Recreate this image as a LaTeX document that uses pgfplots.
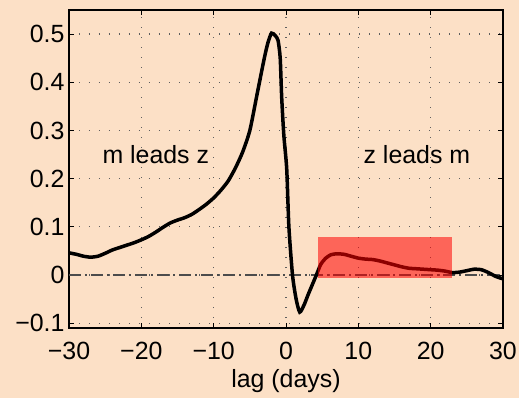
\documentclass[border=0pt]{standalone}
\usepackage{fontspec}
\setmainfont{Liberation Sans}
\usepackage{pgfplots}
\pgfplotsset{compat=1.18}
\usetikzlibrary{backgrounds,calc}
\definecolor{peach}{RGB}{252,224,198}
\definecolor{gridc}{RGB}{95,95,95}
\begin{document}
\begin{tikzpicture}
\begin{axis}[
  scale only axis, width=434bp, height=318bp,
  xmin=-30, xmax=30, ymin=-0.11, ymax=0.55,
  xtick={-30,-20,-10,0,10,20,30},
  xticklabels={−30,−20,−10,0,10,20,30},
  ytick={-0.1,0,0.1,0.2,0.3,0.4,0.5},
  yticklabels={−0.1,0,0.1,0.2,0.3,0.4,0.5},
  tick align=inside, tick pos=both, major tick length=5bp,
  axis line style={line width=1.6bp, black},
  major tick style={line width=1bp, black},
  grid=major,
  major grid style={gridc, line width=1.3bp, dash pattern=on 1.3bp off 8.7bp},
  ticklabel style={font=\fontsize{25}{29}\selectfont},
  xticklabel style={yshift=-11bp},
  yticklabel style={xshift=-1bp},
  xlabel={lag (days)},
  xlabel style={font=\fontsize{25}{29}\selectfont, yshift=-2bp},
]
\coordinate (sw) at (rel axis cs:0,0);
\addplot[gridc!80!black, line width=1.3bp, dash pattern=on 12bp off 4bp on 2bp off 4bp] coordinates {(-30,0) (30,0)};
\addplot[black, line width=3.5bp, smooth, tension=0.4] coordinates {
(-30,0.046) (-29,0.043) (-28,0.039) (-27,0.037) (-26,0.039) (-25,0.045)
(-24,0.052) (-23,0.057) (-22,0.062) (-21,0.067) (-20,0.073) (-19,0.080)
(-18,0.089) (-17,0.099) (-16,0.108) (-15,0.114) (-14,0.119) (-13,0.126)
(-12,0.136) (-11,0.147) (-10,0.160) (-9,0.176) (-8,0.195) (-7,0.222)
(-6,0.255) (-5,0.300) (-4,0.375) (-3,0.450) (-2.5,0.482) (-2,0.502)
(-1.5,0.497) (-1.1,0.487) (-0.8,0.45) (-0.6,0.37) (-0.3,0.29) (0.1,0.22)
(0.4,0.10) (0.9,0.0) (1.4,-0.05) (1.9,-0.077) (2.5,-0.062) (3,-0.043)
(3.5,-0.025) (4.2,0.0) (4.8,0.022) (5.5,0.035) (6.2,0.042) (7,0.044)
(8,0.043) (9,0.039) (10,0.035) (11,0.033) (12,0.032) (13,0.029)
(14,0.025) (15,0.021) (16,0.017) (17,0.014) (18,0.013) (19,0.012)
(20,0.011) (21,0.010) (22,0.008) (23,0.005) (24,0.006) (25,0.009)
(26,0.012) (27,0.011) (28,0.005) (29,-0.003) (30,-0.008)
};
\addplot[draw=none, fill=red, fill opacity=0.55] coordinates {
(4.4,-0.006) (23.0,-0.006) (23.0,0.078) (4.4,0.078)};
\node[font=\fontsize{25}{29}\selectfont] at (axis cs:-18,0.25) {m leads z};
\node[font=\fontsize{25}{29}\selectfont] at (axis cs:18.1,0.25) {z leads m};
\end{axis}
\pgfresetboundingbox
\begin{scope}[on background layer]
\fill[peach] ($(sw)+(-69bp,-70bp)$) rectangle ++(519bp,398bp);
\end{scope}
\end{tikzpicture}
\end{document}
